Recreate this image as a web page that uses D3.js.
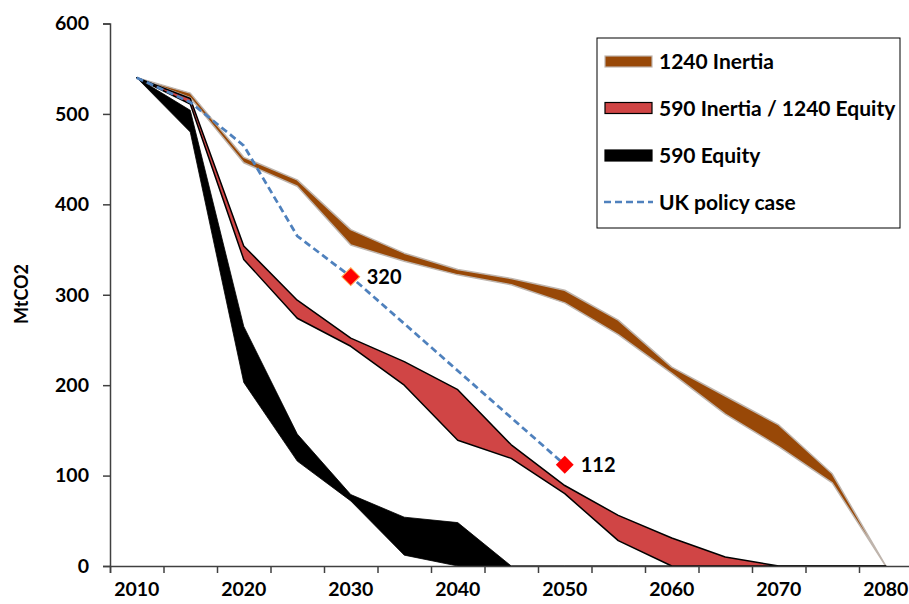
<!DOCTYPE html>
<html>
<head>
<meta charset="utf-8">
<script src="https://cdn.jsdelivr.net/npm/d3@7"></script>
<style>
  html, body { margin: 0; padding: 0; background: #fff; }
  svg { display: block; font-family: Lato, "Open Sans", sans-serif; font-weight: 700; }
</style>
</head>
<body>
<svg id="chart" width="909" height="604"></svg>
<script>
// Emission pathways, MtCO2, in 5-year steps
const years = ["2010","2015","2020","2025","2030","2035","2040","2045","2050","2055","2060","2065","2070","2075","2080"];
const xTickLabels = ["2010","2020","2030","2040","2050","2060","2070","2080"];
const yTicks = [0, 100, 200, 300, 400, 500, 600];

// 1240 Inertia band
const inertia1240Upper = [540, 523, 452, 427, 372, 346, 328, 318, 305, 272, 220, 188, 156, 102, 0];
const inertia1240Lower = [540, 518, 446, 420, 355, 337, 322, 311, 291, 256, 213, 168, 132, 92, 0];
// 590 Inertia / 1240 Equity band
const mixedUpper = [540, 517, 354, 294, 252, 226, 195, 134, 89, 56, 31, 10, 0, 0, 0];
const mixedLower = [540, 511, 339, 274, 243, 200, 139, 119, 80, 28, 0, 0, 0, 0, 0];
// 590 Equity band
const equity590Upper = [540, 504, 265, 146, 79, 54, 48, 0, 0, 0, 0, 0, 0, 0, 0];
const equity590Lower = [540, 480, 203, 116, 72, 12, 0, 0, 0, 0, 0, 0, 0, 0, 0];
// UK policy case (ends in 2050)
const ukPolicy = [540, 513, 465, 365, 320, 268, 216, 164, 112, null, null, null, null, null, null];
// Labelled policy milestones
const milestoneYears = ["2030", "2050"];
const milestoneValues = [320, 112];

const legendLabels = ["1240 Inertia", "590 Inertia / 1240 Equity", "590 Equity", "UK policy case"];

const svg = d3.select("#chart");

const x = d3.scaleBand().domain(years).range([110, 912.5]).padding(0);
const xc = d => x(d) + x.bandwidth() / 2;
const xEdge = d3.scaleLinear().domain([0, years.length]).range([110, 912.5]);
const y = d3.scaleLinear().domain([0, 600]).range([566, 23.5]);

const axisColor = "#404040";

// Bands
function band(upper, lower) {
  return d3.area()
    .x((d, i) => xc(years[i]))
    .y0((d, i) => y(lower[i]))
    .y1((d, i) => y(upper[i]))(upper);
}

svg.append("path")
  .attr("d", band(inertia1240Upper, inertia1240Lower))
  .attr("fill", "#984807")
  .attr("stroke", "#bfb5ad")
  .attr("stroke-width", 1.5)
  .attr("stroke-linejoin", "round");

svg.append("path")
  .attr("d", band(equity590Upper, equity590Lower))
  .attr("fill", "#000")
  .attr("stroke", "#000")
  .attr("stroke-width", 0.8);

svg.append("path")
  .attr("d", band(mixedUpper, mixedLower))
  .attr("fill", "#d04545")
  .attr("stroke", "#000")
  .attr("stroke-width", 1.5)
  .attr("stroke-linejoin", "round");

// UK policy line
const policyLine = d3.line()
  .defined(d => d !== null)
  .x((d, i) => xc(years[i]))
  .y(d => y(d));

svg.append("path")
  .attr("d", policyLine(ukPolicy))
  .attr("fill", "none")
  .attr("stroke", "#4f81bd")
  .attr("stroke-width", 2.75)
  .attr("stroke-dasharray", "7,4");

// Milestone markers with value labels
const diamond = d3.symbol().type(d3.symbolSquare).size(160);
milestoneYears.forEach((yr, i) => {
  const cx = xc(yr), cy = y(milestoneValues[i]);
  svg.append("path")
    .attr("d", diamond())
    .attr("transform", `translate(${cx},${cy}) rotate(45)`)
    .attr("fill", "#ff0000")
    .attr("stroke", i === 0 ? "#ffa64d" : "none")
    .attr("stroke-width", 1);
  svg.append("text")
    .attr("x", cx + 16)
    .attr("y", cy)
    .attr("dy", "0.36em")
    .attr("font-size", 20)
    .attr("fill", "#000")
    .text(milestoneValues[i]);
});

// Y axis
const yAxis = svg.append("g")
  .attr("transform", "translate(110,0)")
  .call(d3.axisLeft(y).tickValues(yTicks).tickSize(7).tickPadding(14).tickFormat(d3.format("d")));
yAxis.select(".domain").attr("stroke", axisColor).attr("stroke-width", 1.5);
yAxis.selectAll(".tick line").attr("stroke", axisColor).attr("stroke-width", 1.5);
yAxis.selectAll(".tick text")
  .attr("font-family", "Lato, sans-serif").attr("font-weight", 700)
  .attr("font-size", 19.5).attr("fill", "#000");

// X axis: ticks on category boundaries, labels on category centres
const xTicks = svg.append("g")
  .attr("transform", "translate(0,566)")
  .call(d3.axisBottom(xEdge).tickValues(d3.range(0, years.length + 1)).tickSize(7).tickFormat(""));
xTicks.select(".domain").attr("stroke", axisColor).attr("stroke-width", 1.5);
xTicks.selectAll(".tick line").attr("stroke", axisColor).attr("stroke-width", 1.5);

const xLabels = svg.append("g")
  .attr("transform", "translate(0,566)")
  .call(d3.axisBottom(x).tickValues(xTickLabels).tickSize(0).tickPadding(16));
xLabels.select(".domain").remove();
xLabels.selectAll(".tick text")
  .attr("font-family", "Lato, sans-serif").attr("font-weight", 700)
  .attr("font-size", 19.5).attr("fill", "#000");

// Y axis title
svg.append("text")
  .attr("transform", "translate(22,294) rotate(-90)")
  .attr("text-anchor", "middle")
  .attr("dy", "0.36em")
  .attr("font-size", 18)
  .attr("fill", "#000")
  .text("MtCO2");

// Legend
const legend = svg.append("g");
legend.append("rect")
  .attr("x", 597).attr("y", 38).attr("width", 303).attr("height", 190)
  .attr("fill", "#fff").attr("stroke", "#000").attr("stroke-width", 1);

const legendY = [61.5, 108, 155.5, 202];
const swatchStyles = [
  { fill: "#984807", stroke: "#bfb5ad" },
  { fill: "#d04545", stroke: "#000" },
  { fill: "#000", stroke: "#000" }
];
swatchStyles.forEach((s, i) => {
  legend.append("rect")
    .attr("x", 605).attr("y", legendY[i] - 5.5).attr("width", 47).attr("height", 11)
    .attr("fill", s.fill).attr("stroke", s.stroke).attr("stroke-width", 1.2);
});
legend.append("line")
  .attr("x1", 604).attr("x2", 653).attr("y1", legendY[3]).attr("y2", legendY[3])
  .attr("stroke", "#4f81bd").attr("stroke-width", 2.5).attr("stroke-dasharray", "7,4");

legendLabels.forEach((t, i) => {
  legend.append("text")
    .attr("x", 659).attr("y", legendY[i]).attr("dy", "0.36em")
    .attr("font-size", 21).attr("fill", "#000")
    .text(t);
});
</script>
</body>
</html>
